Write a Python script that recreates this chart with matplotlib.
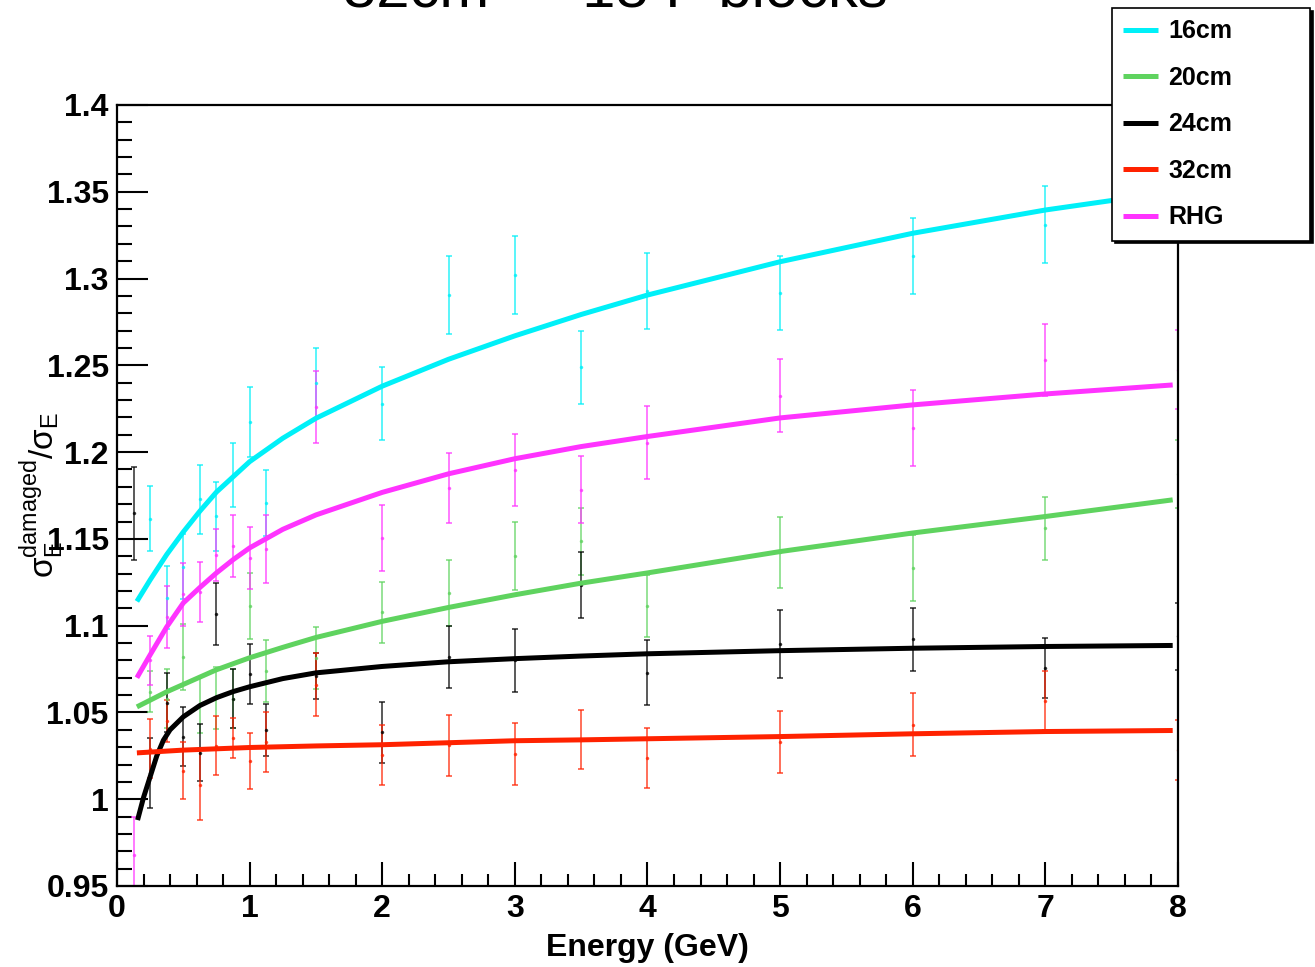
import matplotlib
matplotlib.use("Agg")
import matplotlib.pyplot as plt
from matplotlib.ticker import MultipleLocator, FormatStrFormatter

plt.rcParams['font.family'] = ['Liberation Sans', 'DejaVu Sans']
plt.rcParams['mathtext.fontset'] = 'custom'
plt.rcParams['mathtext.rm'] = 'Liberation Sans'
plt.rcParams['mathtext.it'] = 'Liberation Sans'
plt.rcParams['mathtext.bf'] = 'Liberation Sans:bold'

# measured points (value, error) per module length
cyan_x = [0.25, 0.375, 0.5, 0.625, 0.75, 0.875, 1.0, 1.125, 1.5, 2, 2.5, 3, 3.5, 4, 5, 6, 7]
cyan_y = [1.1615, 1.116, 1.134, 1.1727, 1.163, 1.1869, 1.2176, 1.1707, 1.2399, 1.228, 1.2906, 1.302, 1.249, 1.2929, 1.2917, 1.313, 1.331]
cyan_e = [0.0187, 0.0182, 0.0187, 0.020, 0.020, 0.0186, 0.0202, 0.019, 0.020, 0.021, 0.0225, 0.0225, 0.021, 0.022, 0.0213, 0.0218, 0.0223]

green_x = [0.25, 0.375, 0.5, 0.625, 0.75, 0.875, 1.0, 1.125, 1.5, 2, 2.5, 3, 3.5, 4, 5, 6, 7, 8]
green_y = [1.062, 1.058, 1.082, 1.0544, 1.0584, 1.058, 1.1114, 1.0738, 1.0814, 1.1077, 1.1189, 1.1402, 1.1485, 1.1114, 1.1422, 1.1333, 1.156, 1.1875]
green_e = [0.012, 0.017, 0.019, 0.016, 0.018, 0.017, 0.019, 0.018, 0.018, 0.0177, 0.019, 0.0194, 0.0193, 0.0178, 0.0206, 0.0192, 0.0184, 0.0196]

black_x = [0.125, 0.25, 0.375, 0.5, 0.625, 0.75, 0.875, 1.0, 1.125, 1.5, 2, 2.5, 3, 3.5, 4, 5, 6, 7, 8]
black_y = [1.1647, 1.015, 1.0555, 1.036, 1.0268, 1.1068, 1.058, 1.0722, 1.040, 1.071, 1.0386, 1.082, 1.080, 1.1235, 1.073, 1.0893, 1.0921, 1.0757, 1.0938]
black_e = [0.0268, 0.020, 0.017, 0.017, 0.0164, 0.018, 0.017, 0.0173, 0.015, 0.0135, 0.0177, 0.018, 0.018, 0.019, 0.0187, 0.0195, 0.018, 0.0173, 0.0193]

red_x = [0.25, 0.375, 0.5, 0.625, 0.75, 0.875, 1.0, 1.125, 1.5, 2, 2.5, 3, 3.5, 4, 5, 6, 7, 8]
red_y = [1.029, 1.045, 1.0164, 1.0083, 1.0308, 1.0354, 1.022, 1.033, 1.066, 1.0256, 1.0311, 1.0262, 1.0343, 1.0238, 1.033, 1.043, 1.0567, 1.0285]
red_e = [0.017, 0.012, 0.0164, 0.020, 0.017, 0.0115, 0.016, 0.0175, 0.018, 0.0173, 0.0176, 0.0178, 0.017, 0.0173, 0.0178, 0.018, 0.017, 0.0173]

rhg_x = [0.125, 0.25, 0.375, 0.5, 0.625, 0.75, 0.875, 1.0, 1.125, 1.5, 2, 2.5, 3, 3.5, 4, 5, 6, 7, 8]
rhg_y = [0.968, 1.080, 1.105, 1.118, 1.1196, 1.1408, 1.146, 1.139, 1.1442, 1.226, 1.1506, 1.1794, 1.1897, 1.1783, 1.2053, 1.2324, 1.214, 1.2531, 1.2474]
rhg_e = [0.022, 0.014, 0.018, 0.018, 0.0173, 0.015, 0.0178, 0.018, 0.0197, 0.0208, 0.019, 0.020, 0.021, 0.0194, 0.021, 0.021, 0.022, 0.021, 0.0228]

# fitted curves
fit16_x = [0.15, 0.25, 0.375, 0.5, 0.625, 0.75, 1.0, 1.25, 1.5, 2.0, 2.5, 3.0, 3.5, 4.0, 5.0, 6.0, 7.0, 7.96]
fit16_y = [1.114, 1.1264, 1.141, 1.154, 1.166, 1.177, 1.1945, 1.208, 1.2195, 1.238, 1.2535, 1.267, 1.2793, 1.2905, 1.3097, 1.3261, 1.3395, 1.350]
fit20_x = [0.15, 0.375, 0.75, 1.0, 1.25, 1.5, 2, 2.5, 3, 3.5, 4, 5, 6, 7, 7.96]
fit20_y = [1.0532, 1.0619, 1.0746, 1.0815, 1.0875, 1.0932, 1.1025, 1.1105, 1.1178, 1.1245, 1.1304, 1.1427, 1.1534, 1.1629, 1.1725]
fit24_x = [0.155, 0.2, 0.25, 0.3, 0.35, 0.4, 0.5, 0.625, 0.75, 0.875, 1.0, 1.25, 1.5, 2, 2.5, 3, 3.5, 4, 5, 6, 7, 7.96]
fit24_y = [0.988, 1.001, 1.013, 1.025, 1.034, 1.040, 1.0475, 1.054, 1.0585, 1.062, 1.0648, 1.0695, 1.0728, 1.0765, 1.0792, 1.081, 1.0825, 1.0838, 1.0856, 1.087, 1.088, 1.0886]
fit32_x = [0.15, 0.5, 1.0, 1.5, 2, 3, 3.5, 5, 6, 7, 7.96]
fit32_y = [1.0267, 1.0283, 1.0298, 1.0307, 1.0314, 1.0337, 1.0342, 1.0361, 1.0377, 1.039, 1.0396]
fitrhg_x = [0.15, 0.25, 0.375, 0.5, 0.625, 0.75, 0.875, 1.0, 1.25, 1.5, 2, 2.5, 3, 3.5, 4, 5, 6, 7, 7.96]
fitrhg_y = [1.070, 1.0832, 1.0993, 1.1131, 1.122, 1.1304, 1.138, 1.1448, 1.1555, 1.1638, 1.1768, 1.1875, 1.1962, 1.2032, 1.209, 1.2197, 1.2272, 1.2335, 1.2387]

labels = ["16cm", "20cm", "24cm", "32cm", "RHG"]
colors = ["#00f0f8", "#5fd35f", "#000000", "#ff2200", "#ff33ff"]

fig = plt.figure(figsize=(13.15, 9.67), dpi=100)
ax = fig.add_axes([117/1315, 1-886/967, (1178-117)/1315, (886-105)/967])

points = [(cyan_x, cyan_y, cyan_e), (green_x, green_y, green_e), (black_x, black_y, black_e),
          (red_x, red_y, red_e), (rhg_x, rhg_y, rhg_e)]
fits = [(fit16_x, fit16_y), (fit20_x, fit20_y), (fit24_x, fit24_y), (fit32_x, fit32_y), (fitrhg_x, fitrhg_y)]

for (px, py, pe), c in zip(points, colors):
    ax.errorbar(px, py, yerr=pe, fmt='.', color=c, markersize=3, elinewidth=1.3,
                capsize=2, capthick=1.3, alpha=0.7, zorder=2)

handles = []
for (fx, fy), c, lab in zip(fits, colors, labels):
    ln, = ax.plot(fx, fy, color=c, lw=3.6, label=lab, zorder=3,
                  solid_capstyle='butt', solid_joinstyle='round')
    handles.append(ln)

ax.set_xlim(0, 8)
ax.set_ylim(0.95, 1.4)
ax.xaxis.set_major_locator(MultipleLocator(1))
ax.xaxis.set_minor_locator(MultipleLocator(0.2))
ax.yaxis.set_major_locator(MultipleLocator(0.05))
ax.yaxis.set_minor_locator(MultipleLocator(0.01))
ax.yaxis.set_major_formatter(FormatStrFormatter('%g'))
ax.tick_params(axis='both', which='both', direction='in', width=1.5, top=False, right=False)
ax.tick_params(axis='y', which='major', length=22, pad=6)
ax.tick_params(axis='y', which='minor', length=11)
ax.tick_params(axis='x', which='major', length=17, pad=6)
ax.tick_params(axis='x', which='minor', length=9)
for lab in ax.get_xticklabels() + ax.get_yticklabels():
    lab.set_fontsize(23)
    lab.set_fontweight('bold')
for s in ax.spines.values():
    s.set_linewidth(1.6)

ax.set_xlabel("Energy (GeV)", fontsize=23, fontweight='bold', labelpad=6)
fig.text(0.032, 0.488, r'$\mathrm{\sigma_{E}^{damaged}/\sigma_{E}}$', rotation=90,
         fontsize=24, ha='center', va='center')

fig.text(0.468, 0.9935, "32cm \u2014 18 F blocks", fontsize=43, ha='center', va='baseline')

leg = fig.legend(handles, labels, loc='upper left',
                 bbox_to_anchor=(1112/1315, 1-243/967, (1310-1112)/1315, (243-8)/967),
                 mode='expand', borderaxespad=0, fancybox=False, edgecolor='black',
                 framealpha=1, shadow={'color': 'black', 'alpha': 1},
                 prop={'size': 18, 'weight': 'bold'}, labelspacing=0.9,
                 handlelength=1.4, handletextpad=0.4, borderpad=0.45)
leg.get_frame().set_linewidth(1.2)
for h in leg.get_lines():
    h.set_linewidth(3.6)

fig.savefig("out.png", dpi=100)
